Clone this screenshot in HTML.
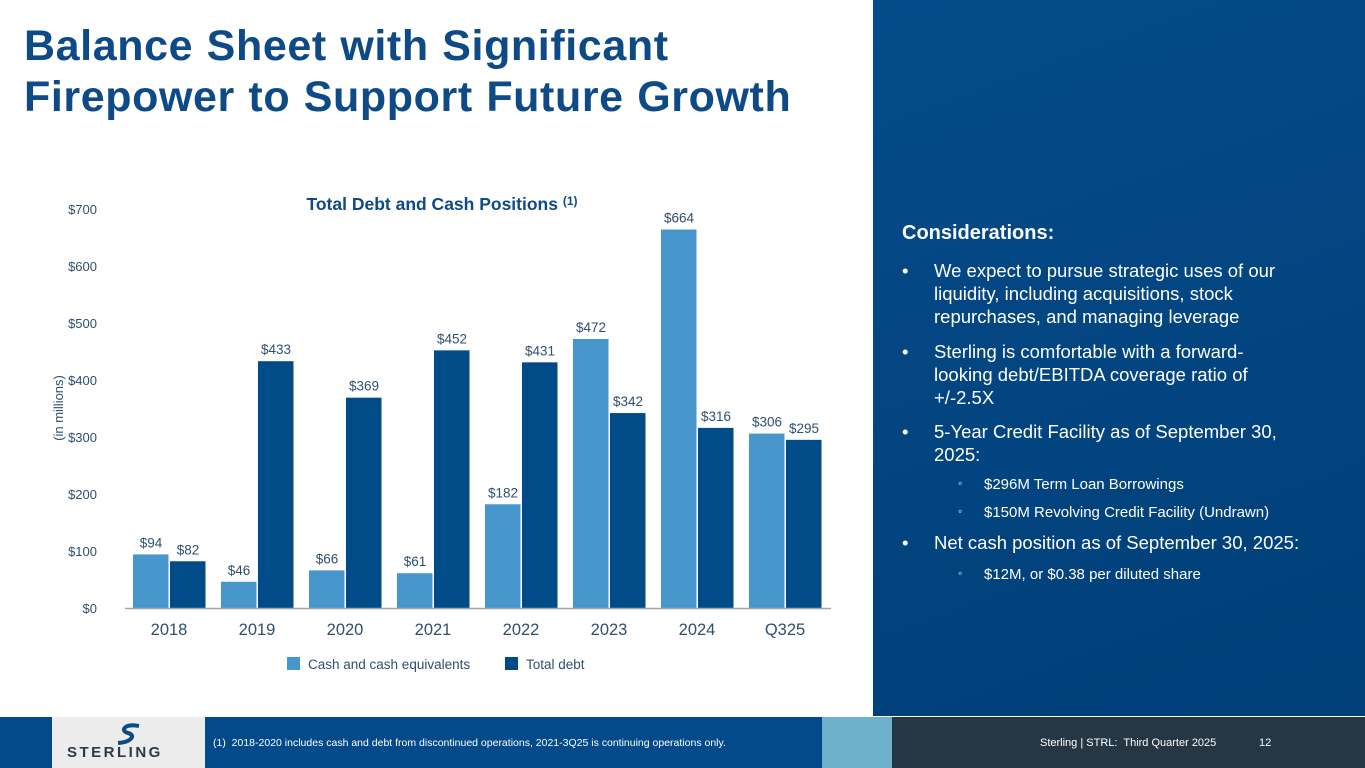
<!DOCTYPE html>
<html><head><meta charset="utf-8"><style>
body{margin:0;width:1365px;height:768px;position:relative;overflow:hidden;background:#fff;font-family:"Liberation Sans",sans-serif}
.abs{position:absolute}
h1{position:absolute;left:24px;top:21px;margin:0;font-size:43px;line-height:51px;color:#0d4a86;font-weight:bold;letter-spacing:0.6px;word-spacing:1px}
.panel{left:873px;top:0;width:492px;height:716px;background:linear-gradient(160deg,#054b8a,#003f78)}
.cons{left:902px;top:222px;color:#fff;font-size:20px;font-weight:bold}
.b{color:#fff;font-size:18.5px;line-height:23px;width:420px;white-space:nowrap}
.b .dot{position:absolute;left:-32px}
.s{color:#fff;font-size:15px}
.s .dot{position:absolute;left:-26px;font-size:12px}
</style></head><body>
<h1>Balance Sheet with Significant<br>Firepower to Support Future Growth</h1>
<svg class="abs" style="left:0;top:0" width="873" height="716" id="chart"></svg>
<div class="abs panel"></div>
<div class="abs cons">Considerations:</div>
<div class="abs b" style="left:934px;top:259px"><span class="dot">•</span>We expect to pursue strategic uses of our<br>liquidity, including acquisitions, stock<br>repurchases, and managing leverage</div>
<div class="abs b" style="left:934px;top:340px"><span class="dot">•</span>Sterling is comfortable with a forward-<br>looking debt/EBITDA coverage ratio of<br>+/-2.5X</div>
<div class="abs b" style="left:934px;top:420px"><span class="dot">•</span>5-Year Credit Facility as of September 30,<br>2025:</div>
<div class="abs s" style="left:984px;top:476px"><span class="dot">◦</span>$296M Term Loan Borrowings</div>
<div class="abs s" style="left:984px;top:504px"><span class="dot">◦</span>$150M Revolving Credit Facility (Undrawn)</div>
<div class="abs b" style="left:934px;top:531px"><span class="dot">•</span>Net cash position as of September 30, 2025:</div>
<div class="abs s" style="left:984px;top:566px"><span class="dot">◦</span>$12M, or $0.38 per diluted share</div>
<div class="abs" style="left:0;top:717px;width:822px;height:51px;background:#024a8a"></div>
<div class="abs" style="left:822px;top:717px;width:70px;height:51px;background:#6fb1cc"></div>
<div class="abs" style="left:892px;top:717px;width:473px;height:51px;background:#253645"></div>
<div class="abs" style="left:52px;top:717px;width:153px;height:51px;background:#ececec">
<svg class="abs" style="left:62px;top:5px" width="30" height="24"><path d="M25 4 C10 1 6 9 14 11 C22 13 18 20 4 21" stroke="#0d4a86" stroke-width="4" fill="none"/></svg>
<div class="abs" style="left:15px;top:27px;font-weight:bold;font-size:15px;letter-spacing:2.5px;color:#2b3a4a">STERLING</div></div>
<div class="abs" style="left:213px;top:737px;color:#fff;font-size:10.5px">(1)&nbsp; 2018-2020 includes cash and debt from discontinued operations, 2021-3Q25 is continuing operations only.</div>
<div class="abs" style="left:1040px;top:737px;color:#fff;font-size:11px">Sterling | STRL:&nbsp; Third Quarter 2025</div>
<div class="abs" style="left:1259px;top:737px;color:#fff;font-size:11px">12</div>
<script>
const categories=["2018","2019","2020","2021","2022","2023","2024","Q325"];
const cashValues=[94,46,66,61,182,472,664,306];
const debtValues=[82,433,369,452,431,342,316,295];
const yTicks=[0,100,200,300,400,500,600,700];
const NS="http://www.w3.org/2000/svg";
const svg=document.getElementById('chart');
const y0=608,pxPer=399/700,x0=125,step=88;
const y=v=>y0-v*pxPer;
const xc=i=>x0+44+i*step;
function el(t,a,txt){const e=document.createElementNS(NS,t);for(const k in a)e.setAttribute(k,a[k]);if(txt!=null)e.textContent=txt;svg.appendChild(e);return e;}
yTicks.forEach(t=>{const e=el('text',{x:97,y:y(t)+5,'text-anchor':'end','font-size':13,fill:'#2f4f6f'},'$'+t);

});
const yt=el('text',{transform:'translate(63,408) rotate(-90)','text-anchor':'middle','font-size':13,fill:'#2f4f6f'},'(in millions)');


const ct=el('text',{x:442,y:210,'text-anchor':'middle','font-size':17.5,'font-weight':'bold',fill:'#0d4a86'},'Total Debt and Cash Positions ');
const sup=document.createElementNS(NS,'tspan');sup.setAttribute('font-size',12);sup.setAttribute('dy',-5);sup.textContent='(1)';ct.appendChild(sup);


categories.forEach((c,i)=>{
 const cx=xc(i);
 const hc=cashValues[i]*pxPer, hd=debtValues[i]*pxPer;
 const r1=el('rect',{x:cx-36,y:y(cashValues[i]),width:35.5,height:hc,fill:'#4797cc'});
 
 
 const r2=el('rect',{x:cx+1,y:y(debtValues[i]),width:35.5,height:hd,fill:'#004b88'});
 
 
 const l1=el('text',{x:cx-18,y:y(cashValues[i])-7,'text-anchor':'middle','font-size':13.5,fill:'#2f4f6f'},'$'+cashValues[i]);
 
 
 const l2=el('text',{x:cx+19,y:y(debtValues[i])-7,'text-anchor':'middle','font-size':13.5,fill:'#2f4f6f'},'$'+debtValues[i]);
 
 
 const xl=el('text',{x:cx,y:635,'text-anchor':'middle','font-size':16.5,fill:'#2f4f6f'},c);
 
 
});
const ax=el('line',{x1:x0,x2:x0+8*step+2,y1:y0+.5,y2:y0+.5,stroke:'#a6a6a6','stroke-width':1.5});


const g1=el('rect',{x:287,y:657,width:13,height:13,fill:'#4797cc'});


const t1=el('text',{x:308,y:669,'font-size':13.5,fill:'#2f4f6f'},'Cash and cash equivalents');


const g2=el('rect',{x:505,y:657,width:13,height:13,fill:'#004b88'});


const t2=el('text',{x:526,y:669,'font-size':13.5,fill:'#2f4f6f'},'Total debt');


</script>
</body></html>
